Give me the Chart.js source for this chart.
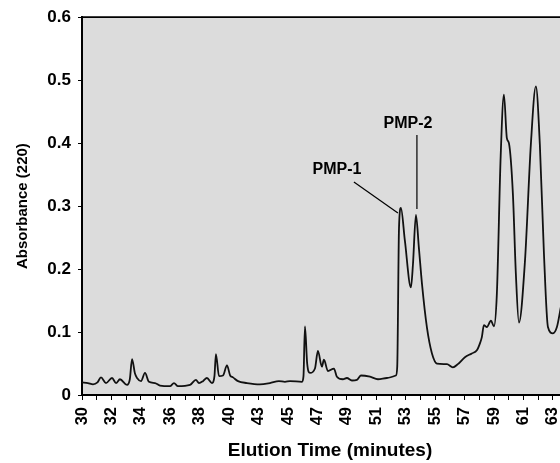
<!DOCTYPE html>
<html>
<head>
<meta charset="utf-8">
<script src="https://cdn.jsdelivr.net/npm/chart.js@4.4.0/dist/chart.umd.min.js"></script>
<style>
  html, body { margin: 0; padding: 0; background: #fff; }
  #wrap { width: 560px; height: 463px; }
</style>
</head>
<body>
<div id="wrap"><canvas id="chrom"></canvas></div>
<script>
// tick labels on the time axis (evenly spaced, note the 40 -> 43 jump)
const tickLabels = [30, 32, 34, 36, 38, 40, 43, 45, 47, 49, 51, 53, 55, 57, 59, 61, 63];

// trace
const elutionTime = [
  30.00, 30.40, 30.75, 31.05, 31.29, 31.63, 32.04, 32.31, 32.58, 33.06,
  33.25, 33.40, 33.60, 33.74, 34.01, 34.28, 34.55, 34.96, 35.30, 35.98,
  36.25, 36.52, 37.34, 37.74, 37.95, 38.22, 38.49, 38.83, 39.00, 39.10,
  39.31, 39.58, 39.85, 40.10, 40.39, 40.90, 41.81, 43.09, 43.77, 44.38,
  44.79, 45.13, 45.95, 46.05, 46.15, 46.30, 46.49, 46.83, 47.03, 47.30,
  47.44, 47.71, 48.12, 48.32, 48.73, 49.00, 49.34, 49.68, 49.95, 50.57,
  51.11, 51.72, 52.33, 52.42, 52.54, 52.67, 52.94, 53.35, 53.49, 53.69,
  53.89, 54.10, 54.44, 54.78, 55.12, 55.80, 56.20, 56.54, 57.02, 57.49,
  57.83, 58.04, 58.17, 58.31, 58.51, 58.79, 58.99, 59.19, 59.45, 59.67,
  59.87, 60.01, 60.28, 60.48, 60.69, 61.10, 61.50, 61.84, 62.11, 62.39,
  62.66, 63.00, 63.27, 63.54
];
const absorbance = [
  0.020, 0.019, 0.017, 0.020, 0.028, 0.019, 0.027, 0.019, 0.025, 0.016,
  0.025, 0.057, 0.034, 0.027, 0.022, 0.035, 0.021, 0.019, 0.015, 0.014,
  0.019, 0.014, 0.016, 0.024, 0.019, 0.022, 0.027, 0.019, 0.030, 0.065,
  0.030, 0.031, 0.047, 0.031, 0.028, 0.022, 0.019, 0.017, 0.019, 0.022,
  0.021, 0.022, 0.021, 0.030, 0.109, 0.050, 0.035, 0.042, 0.070, 0.045,
  0.056, 0.038, 0.042, 0.029, 0.025, 0.027, 0.023, 0.024, 0.031, 0.029,
  0.025, 0.027, 0.031, 0.045, 0.265, 0.297, 0.245, 0.171, 0.208, 0.286,
  0.234, 0.177, 0.107, 0.066, 0.050, 0.049, 0.044, 0.049, 0.060, 0.066,
  0.071, 0.082, 0.092, 0.111, 0.108, 0.118, 0.109, 0.161, 0.380, 0.477,
  0.408, 0.400, 0.319, 0.193, 0.115, 0.213, 0.398, 0.490, 0.398, 0.224,
  0.108, 0.098, 0.108, 0.140
];

// labelled peaks
const peakNames = ['PMP-1', 'PMP-2'];
const peakTimes = [52.67, 53.69];
const peakValues = [0.297, 0.286];

// time -> position along the evenly spaced tick axis
function pos(t) {
  const n = tickLabels.length;
  if (t <= tickLabels[0]) return (t - tickLabels[0]) / (tickLabels[1] - tickLabels[0]);
  for (let i = 1; i < n; i++) {
    if (t <= tickLabels[i]) {
      return i - 1 + (t - tickLabels[i - 1]) / (tickLabels[i] - tickLabels[i - 1]);
    }
  }
  return n - 1 + (t - tickLabels[n - 1]) / (tickLabels[n - 1] - tickLabels[n - 2]);
}

const points = elutionTime.map((t, i) => ({ x: pos(t), y: absorbance[i] }));

const FONT = "'Liberation Sans', Arial, sans-serif";

const decor = {
  id: 'decor',
  beforeDraw(chart) {
    const { ctx, chartArea: a } = chart;
    ctx.save();
    ctx.fillStyle = '#dcdcdc';
    ctx.fillRect(a.left, a.top, a.right - a.left, a.bottom - a.top);
    ctx.restore();
  },
  afterDraw(chart) {
    const { ctx, chartArea: a, scales } = chart;
    ctx.save();
    // top frame line
    ctx.strokeStyle = '#000';
    ctx.lineWidth = 1.8;
    ctx.beginPath();
    ctx.moveTo(a.left, a.top);
    ctx.lineTo(a.right, a.top);
    ctx.stroke();

    // peak callouts
    ctx.font = `bold 16px ${FONT}`;
    ctx.fillStyle = '#000';
    ctx.textAlign = 'center';
    ctx.textBaseline = 'middle';
    ctx.lineWidth = 1.2;

    const p1x = scales.x.getPixelForValue(pos(peakTimes[0]));
    const p1y = scales.y.getPixelForValue(peakValues[0]);
    ctx.fillText(peakNames[0], p1x - 64, p1y - 38);
    ctx.beginPath();
    ctx.moveTo(p1x - 47, p1y - 26);
    ctx.lineTo(p1x - 3, p1y + 5);
    ctx.stroke();

    const p2x = scales.x.getPixelForValue(pos(peakTimes[1]));
    const p2y = scales.y.getPixelForValue(peakValues[1]);
    ctx.fillText(peakNames[1], p2x - 8, p2y - 91);
    ctx.beginPath();
    ctx.moveTo(p2x + 1, p2y - 80);
    ctx.lineTo(p2x + 1, p2y - 6);
    ctx.stroke();

    // x axis title (plot is cropped on the right, so centre it by hand)
    ctx.font = `bold 19px ${FONT}`;
    ctx.fillText('Elution Time (minutes)', 330, 451);
    ctx.restore();
  }
};

new Chart(document.getElementById('chrom'), {
  type: 'line',
  data: {
    datasets: [{
      data: points,
      borderColor: '#111',
      borderWidth: 1.8,
      pointRadius: 0,
      cubicInterpolationMode: 'monotone',
      fill: false
    }]
  },
  options: {
    responsive: true,
    maintainAspectRatio: false,
    animation: false,
    layout: { padding: { top: 15, right: 0, left: 0, bottom: 0 } },
    plugins: { legend: { display: false }, tooltip: { enabled: false } },
    scales: {
      x: {
        type: 'linear',
        min: 0,
        max: 16.24,
        afterFit(s) { s.height = 68; s.paddingLeft = 0; s.paddingRight = 0; },
        grid: { drawOnChartArea: false, drawTicks: true, tickLength: 5, color: '#000', lineWidth: 1 },
        border: { display: true, color: '#000', width: 2 },
        ticks: {
          stepSize: 0.5,
          includeBounds: false,
          autoSkip: false,
          minRotation: 90,
          maxRotation: 90,
          padding: 7,
          color: '#000',
          font: { family: FONT, size: 16.5, weight: 'bold' },
          callback: v => Number.isInteger(v) ? String(tickLabels[v]) : ''
        }
      },
      y: {
        min: 0,
        max: 0.6,
        afterFit(s) { s.width = 82; },
        grid: { drawOnChartArea: false, drawTicks: true, tickLength: 4, color: '#000', lineWidth: 1 },
        border: { display: true, color: '#000', width: 2 },
        title: {
          display: true,
          text: 'Absorbance (220)',
          color: '#000',
          font: { family: FONT, size: 15, weight: 'bold' },
          padding: { top: 14, bottom: 0 }
        },
        ticks: {
          stepSize: 0.1,
          padding: 7,
          color: '#000',
          font: { family: FONT, size: 17, weight: 'bold' },
          callback: v => v === 0 ? '0' : v.toFixed(1)
        }
      }
    }
  },
  plugins: [decor]
});
</script>
</body>
</html>
